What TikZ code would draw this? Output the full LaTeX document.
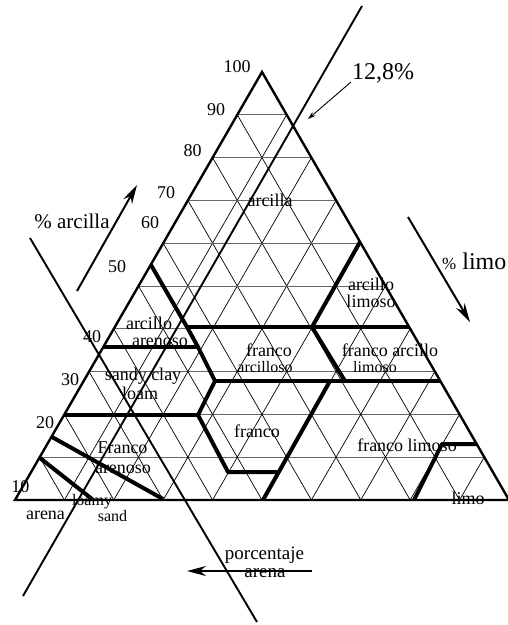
\documentclass[tikz,border=0pt]{standalone}
\usepackage{fontspec}
\setmainfont{Liberation Serif}
\usetikzlibrary{arrows.meta}
\tikzset{
  side/.style={line width=2.4pt, line join=miter},
  bound/.style={line width=4pt, line join=round},
  hgrid/.style={line width=0.9pt, black!60},
  dgrid/.style={line width=0.7pt, black},
  guide/.style={line width=1.9pt},
  bigarrow/.style={line width=2pt, -{Stealth[length=19pt,width=10pt]}},
  tinyarrow/.style={line width=0.9pt, -{Stealth[length=8pt,width=5pt]}},
  lbl/.style={inner sep=0pt, anchor=base, font=\fontsize{18}{18}\selectfont},
  smalllbl/.style={lbl, font=\fontsize{16}{16}\selectfont},
  axislbl/.style={lbl, font=\fontsize{21}{21}\selectfont},
}
\begin{document}
\begin{tikzpicture}[x=1pt,y=-1pt]
\useasboundingbox (0,0) rectangle (508,625);

% corners: A = 100 % sand, B = 100 % silt, C = 100 % clay
\coordinate (A) at (15,500);
\coordinate (B) at (509,500);
\coordinate (C) at (262,72);

% 10 % grid (weights in tenths)
\foreach \k in {1,...,9} {
  \pgfmathtruncatemacro\rest{10-\k}
  \draw[hgrid] (barycentric cs:A=\rest,C=\k) -- (barycentric cs:B=\rest,C=\k);
  \draw[dgrid] (barycentric cs:A=\rest,B=\k) -- (barycentric cs:B=\k,C=\rest);
  \draw[dgrid] (barycentric cs:A=\k,B=\rest) -- (barycentric cs:A=\k,C=\rest);
}

% outline
\draw[side] (A) -- (B) -- (C) -- cycle;

% texture class boundaries
\draw[bound] (151,265) -- (187,327) -- (198,347) -- (215,381) -- (198,415) -- (228,472) -- (277,472);
\draw[bound] (187,327) -- (409,327);
\draw[bound] (103,347) -- (198,347);
\draw[bound] (215,381) -- (440,381);
\draw[bound] (64,415) -- (198,415);
\draw[bound] (360,242) -- (312,327) -- (345,381);
\draw[bound] (263,500) -- (330,381);
\draw[bound] (414,500) -- (442,444) -- (477,444);
\draw[bound] (40,458) -- (92,499);
\draw[bound] (52,437) -- (163,499);

% reading lines
\coordinate (siltlo) at (23,596);
\coordinate (silthi) at (362,6);
\draw[guide] (siltlo) -- (silthi);
\coordinate (sandhi) at (30,238);
\coordinate (sandlo) at (257,622);
\draw[guide] (sandhi) -- (sandlo);

% axis arrows
\coordinate (clayfrom) at (77,291);
\coordinate (clayto) at (137,185);
\draw[bigarrow] (clayfrom) -- (clayto);
\coordinate (siltfrom) at (408,217);
\coordinate (siltto) at (470,322);
\draw[bigarrow] (siltfrom) -- (siltto);
\coordinate (sandfrom) at (312,571);
\coordinate (sandto) at (187,571);
\draw[bigarrow] (sandfrom) -- (sandto);
\coordinate (pctfrom) at (351,82);
\coordinate (pctto) at (308,119);
\draw[tinyarrow] (pctfrom) -- (pctto);

% clay scale
\node[lbl] (n100) at (237,72) {100};
\node[lbl] (n90) at (216,115) {90};
\node[lbl] (n80) at (192.5,156) {80};
\node[lbl] (n70) at (166,198) {70};
\node[lbl] (n60) at (150,228) {60};
\node[lbl] (n50) at (117,272) {50};
\node[lbl] (n40) at (92,342) {40};
\node[lbl] (n30) at (70,385) {30};
\node[lbl] (n20) at (45,428) {20};
\node[lbl] (n10) at (20.5,492) {10};

% axis titles
\node[lbl, font=\fontsize{24}{24}\selectfont] (pct) at (383,79) {12,8\%};
\node[axislbl] (claytitle) at (72,228) {\% arcilla};
\node[lbl, font=\fontsize{24}{24}\selectfont, anchor=base west] (silttitle) at (442,269) {{\fontsize{17}{17}\selectfont\%} limo};
\node[lbl, font=\fontsize{19}{19}\selectfont] (sandtitleA) at (264.5,559) {porcentaje};
\node[lbl, font=\fontsize{19}{19}\selectfont] (sandtitleB) at (265,577) {arena};

% class names
\node[lbl] (clay) at (270,206) {arcilla};
\node[lbl] (siclayA) at (371,290) {arcillo};
\node[lbl] (siclayB) at (371,307) {limoso};
\node[lbl] (saclayA) at (149,329) {arcillo};
\node[lbl] (saclayB) at (160,346) {arenoso};
\node[lbl] (clloamA) at (269,356) {franco};
\node[smalllbl] (clloamB) at (265,372) {arcilloso};
\node[lbl] (sicllA) at (390,356) {franco arcillo};
\node[smalllbl] (sicllB) at (375,372) {limoso};
\node[lbl] (sacllA) at (143,380) {sandy clay};
\node[lbl] (sacllB) at (140,399) {loam};
\node[lbl] (saloamA) at (122.5,453) {Franco};
\node[lbl] (saloamB) at (123,473) {arenoso};
\node[lbl] (loam) at (257,437) {franco};
\node[lbl] (siloam) at (407,451) {franco limoso};
\node[lbl] (silt) at (468,504) {limo};
\node[lbl] (sand) at (45.5,519) {arena};
\node[smalllbl] (lsandA) at (92,505) {loamy};
\node[smalllbl] (lsandB) at (112.5,521) {sand};
\end{tikzpicture}
\end{document}
